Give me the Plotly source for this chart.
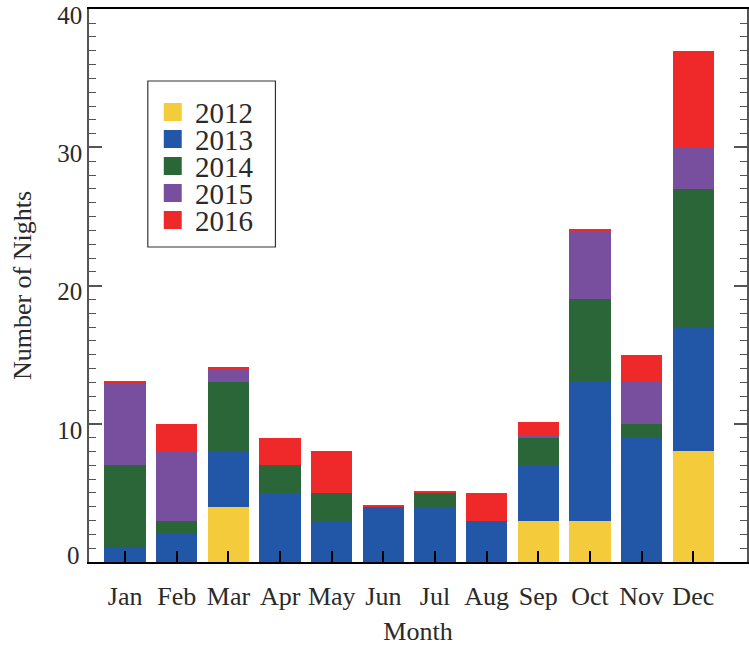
import plotly.graph_objects as go

# Nights per month, stacked by year
months = ["Jan", "Feb", "Mar", "Apr", "May", "Jun", "Jul", "Aug", "Sep", "Oct", "Nov", "Dec"]
years = ["2012", "2013", "2014", "2015", "2016"]

nights_2012 = [0, 0, 4, 0, 0, 0, 0, 0, 3, 3, 0, 8]
nights_2013 = [1, 2, 4, 5, 3, 4, 4, 3, 4, 10, 9, 9]
nights_2014 = [6, 1, 5, 2, 2, 0, 1, 0, 2, 6, 1, 10]
nights_2015 = [6, 5, 1, 0, 0, 0, 0, 0, 0.1, 5, 3, 3]
nights_2016 = [0.1, 2, 0.1, 2, 3, 0.1, 0.1, 2, 1, 0.1, 2, 7]

series = [nights_2012, nights_2013, nights_2014, nights_2015, nights_2016]
colors = ["#F3CB3B", "#2157A6", "#2B6638", "#784E9E", "#EF2929"]

y_ticks = [0, 10, 20, 30, 40]

FONT = "Liberation Serif"
TEXT = "#2a2a2a"

fig = go.Figure()
for name, vals, col in zip(years, series, colors):
    fig.add_trace(go.Bar(
        x=months, y=vals, name=name, width=0.8,
        marker=dict(color=col, line=dict(width=0)),
        showlegend=False,
    ))

# Hand-built legend box in paper coordinates
W, H = 660.0, 553.0
def px_x(p):
    return (p - 89) / W
def px_y(p):
    return (562 - p) / H

shapes = [dict(type="rect", xref="paper", yref="paper",
               x0=px_x(148), x1=px_x(276), y0=px_y(247), y1=px_y(81),
               line=dict(color="#333333", width=1.2), fillcolor="white")]
annotations = []
for i, (name, col) in enumerate(zip(years, colors)):
    cy = 112 + 27 * i
    shapes.append(dict(type="rect", xref="paper", yref="paper",
                       x0=px_x(164), x1=px_x(182), y0=px_y(cy + 9), y1=px_y(cy - 9),
                       line=dict(width=0), fillcolor=col))
    annotations.append(dict(xref="paper", yref="paper", x=px_x(194), y=px_y(cy + 1),
                            text=name, showarrow=False, xanchor="left", yanchor="middle",
                            height=26, borderpad=0,
                            font=dict(family=FONT, size=29, color=TEXT)))

# The zero label sits just above the baseline rather than below its tick
annotations.append(dict(xref="paper", yref="y", x=px_x(81), y=y_ticks[0], yshift=7,
                        text=str(y_ticks[0]), showarrow=False, xanchor="right", yanchor="middle",
                        borderpad=0, font=dict(family=FONT, size=25, color=TEXT)))

fig.update_layout(
    width=749, height=650,
    margin=dict(l=89, r=0, t=9, b=88),
    barmode="stack",
    plot_bgcolor="white", paper_bgcolor="white",
    font=dict(family=FONT, color=TEXT),
    shapes=shapes, annotations=annotations,
    xaxis=dict(
        range=[-0.7, 12.04],
        showgrid=False, zeroline=False,
        showline=True, linecolor="black", linewidth=1.5, mirror=True,
        ticks="inside", ticklen=11, tickwidth=1.5, tickcolor="black",
        tickfont=dict(family=FONT, size=26, color=TEXT),
        ticklabelstandoff=10,
        title=dict(text="Month", font=dict(family=FONT, size=26, color=TEXT), standoff=12),
    ),
    yaxis=dict(
        range=[0, 40.02],
        showgrid=False, zeroline=False,
        tickvals=y_ticks, ticktext=[""] + [str(v) for v in y_ticks[1:]],
        showline=True, linecolor="#555555", linewidth=1.5, mirror="ticks",
        ticks="inside", ticklen=13, tickwidth=1.5, tickcolor="#555555",
        minor=dict(dtick=1, ticks="inside", ticklen=7, tickwidth=1.2, tickcolor="#555555"),
        tickfont=dict(family=FONT, size=25, color=TEXT),
        ticklabelshift=6,
        title=dict(text="Number of Nights", font=dict(family=FONT, size=26, color=TEXT), standoff=18),
    ),
)

fig.write_html("out.html")
